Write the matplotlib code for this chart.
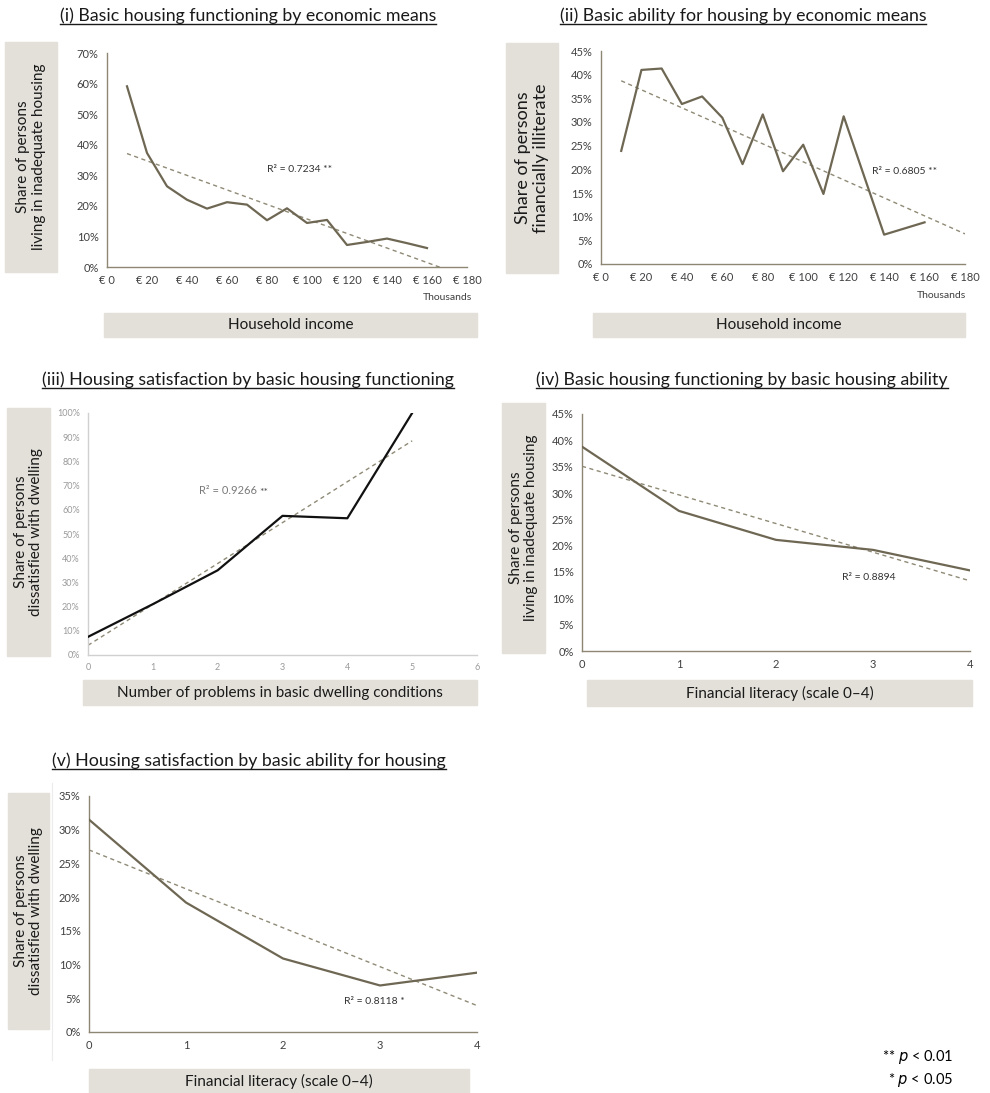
import numpy as np
import matplotlib
matplotlib.use("Agg")
import matplotlib.pyplot as plt
from matplotlib.patches import Rectangle
from matplotlib.lines import Line2D
from matplotlib.ticker import PercentFormatter, FuncFormatter, MultipleLocator

plt.rcParams['font.family'] = ['Lato', 'DejaVu Sans']

# ---- data ----
income = [10, 20, 30, 40, 50, 60, 70, 80, 90, 100, 110, 120, 130, 140, 150, 160]
inadequate_by_income = [0.591, 0.373, 0.264, 0.220, 0.191, 0.212, 0.204, 0.153,
                        0.192, 0.144, 0.154, 0.072, 0.082, 0.093, 0.078, 0.062]
illiterate_by_income = [0.239, 0.410, 0.413, 0.338, 0.354, 0.309, 0.211, 0.316,
                        0.196, 0.252, 0.148, 0.312, 0.187, 0.062, 0.075, 0.088]

problems = [0, 1, 2, 3, 4, 5]
dissatisfied_by_problems = [0.075, 0.21, 0.35, 0.575, 0.565, 1.0]

literacy = [0, 1, 2, 3, 4]
inadequate_by_literacy = [0.388, 0.266, 0.211, 0.192, 0.153]
dissatisfied_by_literacy = [0.315, 0.192, 0.109, 0.069, 0.088]

W, H = 990, 1093
fig = plt.figure(figsize=(W / 100, H / 100), dpi=100)

LINE = '#6e6753'
TREND = '#8f8a76'
SPINE = '#8c8672'
BOX = '#e3e0da'


def rect(x0, y0, x1, y1):
    # pixel box -> figure fraction
    return [x0 / W, 1 - y1 / H, (x1 - x0) / W, (y1 - y0) / H]


def label_box(x0, y0, x1, y1, text, rotation=0, size=10.5):
    fig.patches.append(Rectangle((x0 / W, 1 - y1 / H), (x1 - x0) / W, (y1 - y0) / H,
                                 transform=fig.transFigure, color=BOX, zorder=0))
    fig.text((x0 + x1) / 2 / W, 1 - (y0 + y1) / 2 / H, text, rotation=rotation,
             ha='center', va='center', fontsize=size, color='#1a1a1a',
             multialignment='center', linespacing=1.15)


titles = []


def title(cx, cy, text):
    t = fig.text(cx / W, 1 - cy / H, text, ha='center', va='center', fontsize=12.8,
                 color='#1a1a1a')
    titles.append(t)


def style(ax, spine=SPINE, tick_color='#404040', tick_size=8):
    for s in ['top', 'right']:
        ax.spines[s].set_visible(False)
    for s in ['left', 'bottom']:
        ax.spines[s].set_color(spine)
        ax.spines[s].set_linewidth(1.0)
    ax.tick_params(length=0, labelsize=tick_size, colors=tick_color, pad=6)
    ax.yaxis.set_major_formatter(PercentFormatter(1.0, decimals=0))


def trend(ax, x, y, x0, x1):
    k, b = np.polyfit(x, y, 1)
    xs = np.array([x0, x1])
    ax.plot(xs, k * xs + b, ls=(0, (3, 2.5)), color=TREND, lw=1.0, zorder=2)


euro = FuncFormatter(lambda v, p: f"€ {int(v)}")

# (i)
title(248, 16, "(i) Basic housing functioning by economic means")
label_box(5, 42, 57, 272, "Share of persons\nliving in inadequate housing", rotation=90, size=11)
label_box(104, 313, 477, 337, "Household income", size=11)
ax1 = fig.add_axes(rect(107, 53, 467, 267))
ax1.plot(income, inadequate_by_income, color=LINE, lw=1.6, zorder=3)
trend(ax1, income, inadequate_by_income, 10, 180)
ax1.set_xlim(0, 180)
ax1.set_ylim(0, 0.7)
ax1.xaxis.set_major_locator(MultipleLocator(20))
ax1.yaxis.set_major_locator(MultipleLocator(0.1))
style(ax1)
ax1.xaxis.set_major_formatter(euro)
ax1.text(80, 0.31, "R² = 0.7234 **", fontsize=7.5, color='#333333')
fig.text(472 / W, 1 - 298 / H, "Thousands", ha='right', va='center', fontsize=7.5, color='#404040')

# (ii)
title(743, 16, "(ii) Basic ability for housing by economic means")
label_box(506, 43, 558, 273, "Share of persons\nfinancially illiterate", rotation=90, size=13)
label_box(593, 313, 965, 337, "Household income", size=11)
ax2 = fig.add_axes(rect(601, 51, 965, 264))
ax2.plot(income, illiterate_by_income, color=LINE, lw=1.6, zorder=3)
trend(ax2, income, illiterate_by_income, 10, 180)
ax2.set_xlim(0, 180)
ax2.set_ylim(0, 0.45)
ax2.xaxis.set_major_locator(MultipleLocator(20))
ax2.yaxis.set_major_locator(MultipleLocator(0.05))
style(ax2)
ax2.xaxis.set_major_formatter(euro)
ax2.text(134, 0.19, "R² = 0.6805 **", fontsize=7.5, color='#333333')
fig.text(966 / W, 1 - 296 / H, "Thousands", ha='right', va='center', fontsize=7.5, color='#404040')

# (iii)
title(248, 380, "(iii) Housing satisfaction by basic housing functioning")
label_box(7, 408, 50, 656, "Share of persons\ndissatisfied with dwelling", rotation=90, size=11)
label_box(83, 680, 477, 705, "Number of problems in basic dwelling conditions", size=11)
ax3 = fig.add_axes(rect(88, 413, 477, 655))
ax3.plot(problems, dissatisfied_by_problems, color='#111111', lw=1.6, zorder=3)
trend(ax3, problems, dissatisfied_by_problems, 0, 5)
ax3.set_xlim(0, 6)
ax3.set_ylim(0, 1.0)
ax3.xaxis.set_major_locator(MultipleLocator(1))
ax3.yaxis.set_major_locator(MultipleLocator(0.1))
style(ax3, spine='#d0d0d0', tick_color='#9a9a9a', tick_size=6.5)
r3 = ax3.text(1.71, 0.665, "R² = 0.9266", fontsize=8, color='#7a7a7a')
ax3.annotate("**", xy=(1, 1), xycoords=r3, xytext=(2, -2), textcoords='offset points',
             ha='left', va='top', fontsize=7.5, color='#555555')

# (iv)
title(742, 380, "(iv) Basic housing functioning by basic housing ability")
label_box(502, 403, 545, 653, "Share of persons\nliving in inadequate housing", rotation=90, size=11)
label_box(587, 680, 972, 706, "Financial literacy (scale 0–4)", size=11)
ax4 = fig.add_axes(rect(582, 414, 970, 651))
ax4.plot(literacy, inadequate_by_literacy, color=LINE, lw=1.6, zorder=3)
trend(ax4, literacy, inadequate_by_literacy, 0, 4)
ax4.set_xlim(0, 4)
ax4.set_ylim(0, 0.45)
ax4.xaxis.set_major_locator(MultipleLocator(1))
ax4.yaxis.set_major_locator(MultipleLocator(0.05))
style(ax4)
ax4.text(2.68, 0.135, "R² = 0.8894", fontsize=7.5, color='#333333')

# (v)
title(249, 761, "(v) Housing satisfaction by basic ability for housing")
label_box(8, 793, 49, 1029, "Share of persons\ndissatisfied with dwelling", rotation=90, size=11)
label_box(89, 1069, 469, 1093, "Financial literacy (scale 0–4)", size=11)
fig.add_artist(Line2D([52 / W, 52 / W], [1 - 783 / H, 1 - 1060 / H], color='#ececec', lw=0.8))
ax5 = fig.add_axes(rect(89, 796, 477, 1032))
ax5.plot(literacy, dissatisfied_by_literacy, color=LINE, lw=1.6, zorder=3)
trend(ax5, literacy, dissatisfied_by_literacy, 0, 4)
ax5.set_xlim(0, 4)
ax5.set_ylim(0, 0.35)
ax5.xaxis.set_major_locator(MultipleLocator(1))
ax5.yaxis.set_major_locator(MultipleLocator(0.05))
style(ax5)
ax5.text(2.63, 0.041, "R² = 0.8118 *", fontsize=7.5, color='#333333')

# significance note
fig.text(953 / W, 1 - 1057 / H, "** $\\it{p}$ < 0.01", ha='right', va='center', fontsize=10.5)
fig.text(953 / W, 1 - 1080 / H, "* $\\it{p}$ < 0.05", ha='right', va='center', fontsize=10.5)

# underline the panel titles
fig.canvas.draw()
inv = fig.transFigure.inverted()
for t in titles:
    bb = t.get_window_extent()
    (x0, y0), (x1, _) = inv.transform([[bb.x0, bb.y0], [bb.x1, bb.y1]])
    fig.add_artist(Line2D([x0, x1], [y0 + 0.5 / H, y0 + 0.5 / H], color='#1a1a1a', lw=1.0))

fig.savefig("out.png", dpi=100)
